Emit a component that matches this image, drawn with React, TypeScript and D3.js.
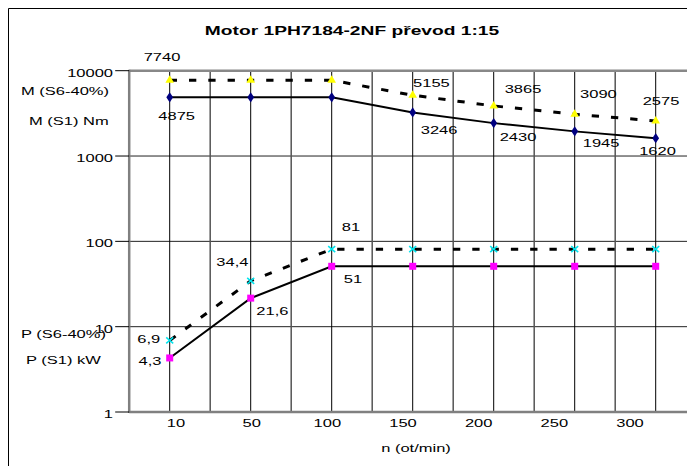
import React from "react";
import * as d3 from "d3";

const categories = ["10", "50", "100", "150", "200", "250", "300"];
const mS6 = [7740, 7740, 7740, 5155, 3865, 3090, 2575];
const mS1 = [4875, 4875, 4875, 3246, 2430, 1945, 1620];
const pS6 = [6.9, 34.4, 81, 81, 81, 81, 81];
const pS1 = [4.3, 21.6, 51, 51, 51, 51, 51];
const yTicks = [1, 10, 100, 1000, 10000];

// label offsets (centre of label relative to its point); null = no label
const mS6Labels: ([number, number] | null)[] = [[-7.7, -23.6], null, null, [18.7, -12.3], [29.3, -17], [23.7, -20.3], [5.3, -20.1]];
const mS1Labels: ([number, number] | null)[] = [[7, 18.6], null, null, [26.4, 17.2], [24.3, 13.8], [26.4, 11.5], [1.8, 12.8]];
const pS6Labels: ([number, number] | null)[] = [[-21, -1.4], [-18.3, -19.2], [19.3, -22.2], null, null, null, null];
const pS1Labels: ([number, number] | null)[] = [[-19.7, 2.7], [21.7, 12.5], [21.3, 12.7], null, null, null, null];

const W = 687, H = 466;
const FONT = "'Liberation Sans', Arial, sans-serif";
const SX = 1.5;

const plot = { left: 129.2, right: 696.2, top: 70.7, bottom: 412 };

const x = d3.scaleBand<string>().domain(categories).range([plot.left, plot.right]).padding(0);
const px = (c: string) => (x(c) as number) + x.bandwidth() / 2;
const y = d3.scaleLog().domain([1, 10000]).range([plot.bottom, plot.top]);
const xLab = d3.scalePoint<string>().domain(categories).range([176, 630]);

const fmt = (v: number) => (Number.isInteger(v) ? String(v) : String(v).replace(".", ","));

function T(props: { x: number; y: number; anchor?: string; bold?: boolean; size?: number; sx?: number; children: any }) {
  const { x: tx, y: ty, anchor = "middle", bold = false, size = 11, sx = SX, children } = props;
  return (
    <text
      transform={`translate(${tx},${ty}) scale(${sx},1)`}
      textAnchor={anchor as any}
      fontFamily={FONT}
      fontSize={size}
      fontWeight={bold ? "bold" : "normal"}
      fill="#000"
    >
      {children}
    </text>
  );
}

function Labels({ values, offsets }: { values: number[]; offsets: ([number, number] | null)[] }) {
  return (
    <g>
      {values.map((v, i) => {
        const o = offsets[i];
        if (!o) return null;
        return (
          <T key={i} x={px(categories[i]) + o[0]} y={y(v) + o[1] + 4}>
            {fmt(v)}
          </T>
        );
      })}
    </g>
  );
}

export default function App() {
  const line = (vals: number[]) =>
    d3.line<number>().x((_, i) => px(categories[i])).y((v) => y(v))(vals) as string;

  const boundaries = categories.map((c) => x(c) as number).slice(1).concat([plot.right]);

  const tri = d3.symbol().type(d3.symbolTriangle).size(32)() as string;
  const dia = d3.symbol().type(d3.symbolDiamond).size(30)() as string;

  return (
    <svg
      width={W}
      height={H}
      style={{ position: "fixed", left: 0, top: 0, background: "#fff" }}
    >
      <rect x={0} y={0} width={W} height={H} fill="#fff" />
      {/* outer chart frame */}
      <line x1={8.5} y1={8.5} x2={W} y2={8.5} stroke="#000" strokeWidth={1} />
      <line x1={8.5} y1={8.5} x2={8.5} y2={H} stroke="#000" strokeWidth={1} />

      {/* title */}
      <T x={352} y={35} bold size={12} sx={1.6}>Motor 1PH7184-2NF převod 1:15</T>

      {/* horizontal gridlines */}
      {yTicks.slice(1, -1).map((t) => (
        <line key={t} x1={plot.left} x2={W} y1={y(t)} y2={y(t)} stroke="#222" strokeWidth={1} />
      ))}
      {/* vertical gridlines at categories (black) */}
      {categories.map((c) => (
        <line key={c} x1={px(c)} x2={px(c)} y1={plot.top} y2={plot.bottom} stroke="#000" strokeWidth={1} />
      ))}
      {/* vertical gridlines at boundaries (grey) */}
      {boundaries.map((b, i) => (
        <line key={i} x1={b} x2={b} y1={plot.top} y2={plot.bottom} stroke="#555" strokeWidth={1.5} />
      ))}
      {/* plot area top border */}
      <line x1={plot.left} x2={W} y1={plot.top} y2={plot.top} stroke="#888" strokeWidth={2.5} />
      {/* axes */}
      <line x1={plot.left} x2={W} y1={plot.bottom} y2={plot.bottom} stroke="#808080" strokeWidth={2.5} />
      <line x1={plot.left} x2={plot.left} y1={plot.top - 1} y2={plot.bottom + 1} stroke="#808080" strokeWidth={2.5} />
      {yTicks.map((t) => (
        <g key={t}>
          <line x1={plot.left - 14} x2={plot.left} y1={y(t)} y2={y(t)} stroke="#000" strokeWidth={1} />
          <T x={113} y={y(t) + 6} anchor="end">{t}</T>
        </g>
      ))}
      {categories.map((c) => (
        <T key={c} x={xLab(c) as number} y={427}>{c}</T>
      ))}
      <T x={416} y={452}>n (ot/min)</T>

      {/* side labels */}
      <T x={21} y={95} anchor="start">M (S6-40%)</T>
      <T x={29} y={125} anchor="start">M (S1) Nm</T>
      <T x={21} y={337.5} anchor="start">P (S6-40%)</T>
      <T x={26} y={364} anchor="start">P (S1) kW</T>

      {/* lines */}
      <path d={line(mS6)} fill="none" stroke="#000" strokeWidth={3} strokeDasharray="7.3,12" />
      <path d={line(mS1)} fill="none" stroke="#000" strokeWidth={2} />
      <path d={line(pS6)} fill="none" stroke="#000" strokeWidth={3} strokeDasharray="7.3,12" />
      <path d={line(pS1)} fill="none" stroke="#000" strokeWidth={2} />

      {/* markers */}
      {mS6.map((v, i) => (
        <path key={"a" + i} d={tri} transform={`translate(${px(categories[i])},${y(v)})`} fill="#ffff00" />
      ))}
      {mS1.map((v, i) => (
        <path key={"b" + i} d={dia} transform={`translate(${px(categories[i])},${y(v)}) scale(1.15,1)`} fill="#000080" />
      ))}
      {pS6.map((v, i) => {
        const cx = px(categories[i]), cy = y(v);
        return (
          <g key={"c" + i} stroke="#00e5ee" strokeWidth={1.5}>
            <line x1={cx - 3.5} y1={cy - 3} x2={cx + 3.5} y2={cy + 3} />
            <line x1={cx - 3.5} y1={cy + 3} x2={cx + 3.5} y2={cy - 3} />
          </g>
        );
      })}
      {pS1.map((v, i) => (
        <rect key={"d" + i} x={px(categories[i]) - 3.5} y={y(v) - 3.5} width={7} height={7} fill="#ff00ff" />
      ))}

      {/* data labels */}
      <Labels values={mS6} offsets={mS6Labels} />
      <Labels values={mS1} offsets={mS1Labels} />
      <Labels values={pS6} offsets={pS6Labels} />
      <Labels values={pS1} offsets={pS1Labels} />
    </svg>
  );
}
